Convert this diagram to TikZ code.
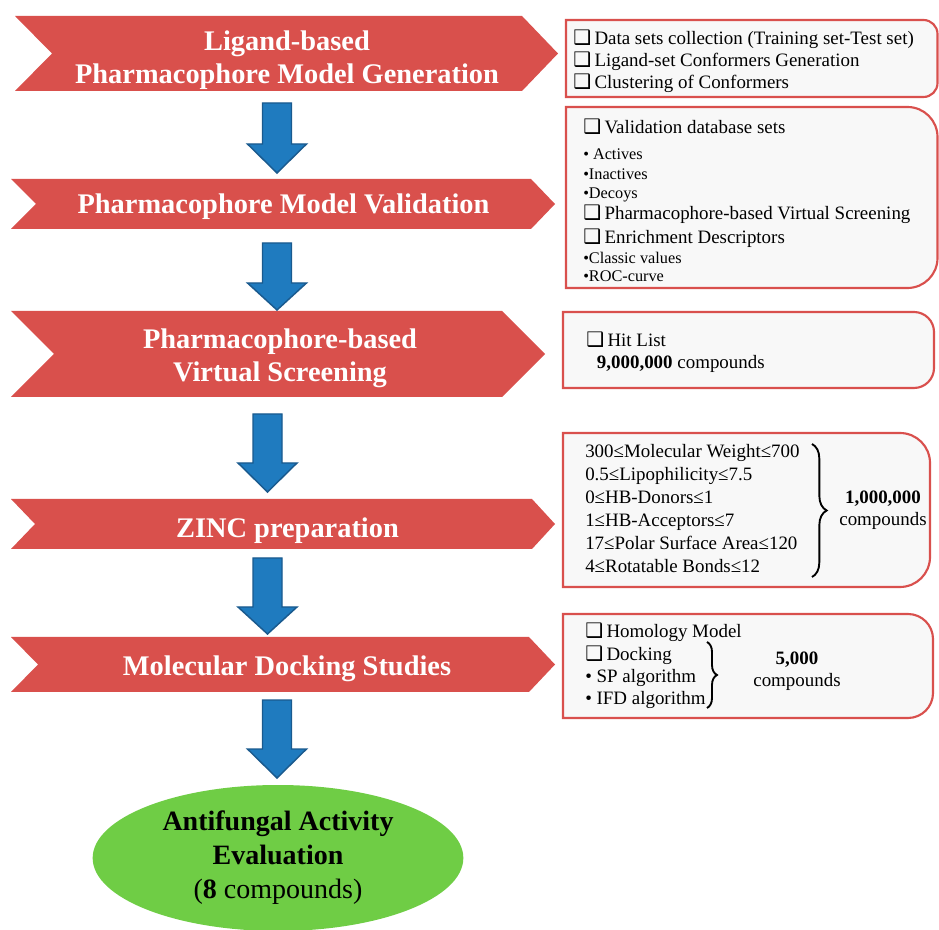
\documentclass[tikz,border=0pt]{standalone}
\usepackage{fontspec}
\setmainfont{Liberation Serif}
\newfontfamily\symfont{DejaVu Sans}
\usepackage{tikz}
\usetikzlibrary{shapes.geometric,decorations.pathreplacing}
\definecolor{chevred}{HTML}{D9504C}
\definecolor{boxred}{HTML}{D9504D}
\definecolor{boxgray}{HTML}{F8F8F8}
\definecolor{arrblue}{HTML}{1F7BBF}
\definecolor{arrdark}{HTML}{1A5A8E}
\definecolor{evalgreen}{HTML}{6FCD45}
\newcommand{\chk}{{\symfont\fontsize{15}{11}\selectfont ❑}\hspace{2.5pt}}
\newcommand{\sm}{\fontsize{12.2}{15}\selectfont}
% chevron: left, top, bottom, notch x, body right, tip x
\newcommand{\chev}[6]{\fill[chev] (#1,#2) -- (#5,#2) -- (#6,{(#2+#3)/2}) -- (#5,#3) -- (#1,#3) -- (#4,{(#2+#3)/2}) -- cycle;}
% info box: left, top, right, bottom, radius
\newcommand{\infobox}[5]{\draw[infobox] (#1,#2) -- ({#3-#5},#2) arc[start angle=90,end angle=0,radius=#5] -- (#3,{#4+#5}) arc[start angle=0,end angle=-90,radius=#5] -- (#1,#4) -- cycle;}
% block arrow: centre x, top, head start, tip
\newcommand{\blockarr}[4]{\draw[barr] ({#1-14.5},#2) -- ({#1+14.5},#2) -- ({#1+14.5},#3) -- ({#1+29.5},#3) -- (#1,#4) -- ({#1-29.5},#3) -- ({#1-14.5},#3) -- cycle;}

\begin{document}
\begin{tikzpicture}[x=0.75pt,y=0.75pt,
  chev/.style={fill=chevred},
  infobox/.style={draw=boxred,fill=boxgray,line width=1.6pt},
  barr/.style={fill=arrblue,draw=arrdark,line width=1.1pt,line join=miter},
  title/.style={font=\bfseries\fontsize{21.3}{25}\selectfont,text=white,align=center,inner sep=0pt,anchor=north},
  info/.style={font=\fontsize{14.2}{16.3}\selectfont,align=left,inner sep=0pt,anchor=north west},
  count/.style={font=\fontsize{14.2}{16.5}\selectfont,align=center,inner sep=0pt,anchor=north},
  brc/.style={decorate,decoration={brace,amplitude=#1},line width=1.4pt},
  goal/.style={ellipse,fill=evalgreen,minimum width=278pt,minimum height=109.5pt,inner sep=0pt,align=center,font=\fontsize{21}{25.5}\selectfont}
]
  \fill[white] (0,0) rectangle (939,929);
  \useasboundingbox (0,0) rectangle (939,929);

  % stages
  \chev{15}{913}{838}{52}{522}{558}
  \chev{11}{750}{700}{36}{531}{555}
  \chev{11}{618}{532}{54}{502}{545}
  \chev{11}{430}{380}{35}{532}{555}
  \chev{11}{292}{237}{38}{529}{555}
  \node[title] (lig) at (287,898.5) {Ligand-based\\Pharmacophore Model Generation};
  \node[title] (val) at (283.5,735.5) {Pharmacophore Model Validation};
  \node[title] (vs) at (280,600.5) {Pharmacophore-based\\Virtual Screening};
  \node[title] (zinc) at (287.5,411.5) {ZINC preparation};
  \node[title] (dock) at (287,273.5) {Molecular Docking Studies};

  % arrows
  \blockarr{277}{826}{785}{756}
  \blockarr{277}{686}{646}{619}
  \blockarr{267.5}{515}{466}{437}
  \blockarr{267.5}{371}{322}{295}
  \blockarr{277}{229}{180}{151}

  \node[goal] (eval) at (278,71) {\textbf{Antifungal Activity}\\\textbf{Evaluation}\\(\textbf{8} compounds)};

  % detail boxes
  \infobox{566}{909}{937.5}{832}{14}
  \infobox{566}{822}{937.5}{641}{30}
  \infobox{563}{617}{934}{541}{20}
  \infobox{563}{496}{930}{342}{30}
  \infobox{563}{315}{933}{211}{25}

  \node[info] (dsets) at (573,899) {\chk Data sets collection (Training set-Test set)\\ \chk Ligand-set Conformers Generation\\ \chk Clustering of Conformers};
  \node[info,font=\fontsize{14.2}{15}\selectfont] (valsets) at (583,810) {\chk Validation database sets\\[4.5pt]
    {\sm\textbullet\ Actives}\\
    {\sm\textbullet Inactives}\\[-0.75pt]
    {\sm\textbullet Decoys}\\[0.75pt]
    \chk Pharmacophore-based Virtual Screening\\[3pt]
    \chk Enrichment Descriptors\\
    {\sm\textbullet Classic values}\\[-1.5pt]
    {\sm\textbullet ROC-curve}};
  \node[info] (hits) at (586,597) {\chk Hit List\\\hspace*{8pt}\textbf{9,000,000} compounds};
  \node[info,font=\fontsize{14.2}{17.25}\selectfont] (filters) at (585,485) {300≤Molecular Weight≤700\\0.5≤Lipophilicity≤7.5\\0≤HB-Donors≤1\\1≤HB-Acceptors≤7\\17≤Polar Surface Area≤120\\4≤Rotatable Bonds≤12};
  \node[count] (zcount) at (883,438) {\textbf{1,000,000}\\compounds};
  \node[info,font=\fontsize{14.2}{16.75}\selectfont] (dockinfo) at (585,306) {\chk Homology Model\\ \chk Docking\\\textbullet\ SP algorithm\\\textbullet\ IFD algorithm};
  \node[count] (dcount) at (797,277) {\textbf{5,000}\\compounds};

  \draw[brc=11pt] (812,485) -- (812,352);
  \draw[brc=7.5pt] (707,287) -- (707,221);
\end{tikzpicture}
\end{document}
